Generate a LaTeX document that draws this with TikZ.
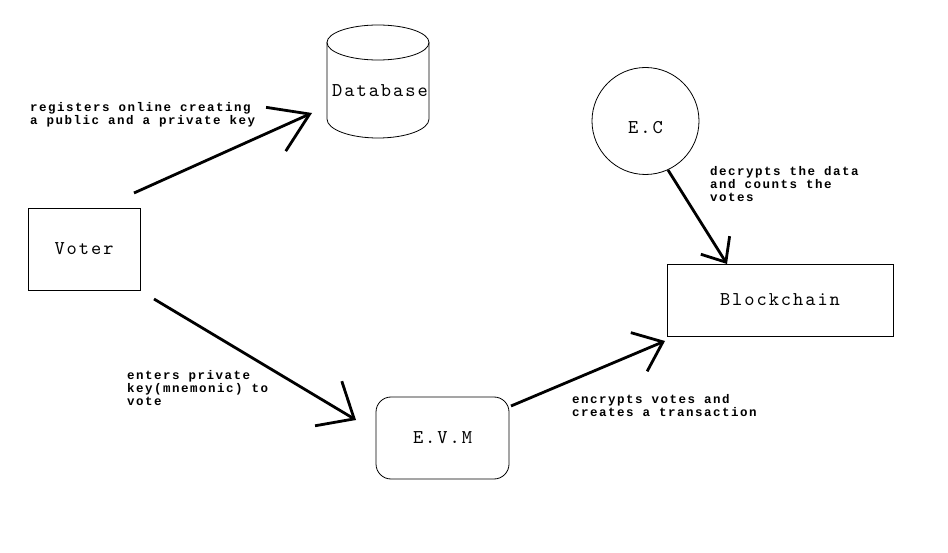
\documentclass[tikz,border=0pt]{standalone}
\usepackage{fontspec}
\newfontfamily\labfont{Liberation Mono}[LetterSpace=12]
\newfontfamily\nodefam{lmmono10-regular}[Extension=.otf, LetterSpace=10]
\usetikzlibrary{arrows.meta}
\newcommand\nodefont{\nodefam\fontsize{19.5}{23}\selectfont}
\newcommand\labsize{\labfont\bfseries\fontsize{12.5}{13}\selectfont}
\tikzset{
  box/.style={draw, line width=0.8pt, inner sep=0pt, font=\nodefont},
  conn/.style={line width=2.8pt},
  barb/.style 2 args={-{Straight Barb[length=#1pt,width=#2pt]}},
  lab/.style={anchor=north west, inner sep=0pt, align=left, font=\labsize}
}
\begin{document}
\begin{tikzpicture}[x=1pt,y=-1pt]
\fill[white] (0,0) rectangle (948,553);
\useasboundingbox (0,0) rectangle (948,553);
% nodes
\node[box, minimum width=112pt, minimum height=82pt] (voter) at (84,249) {Voter};
\node[box, minimum width=226pt, minimum height=72pt] (bc) at (780,300) {Blockchain};
\node[box, rounded corners=15pt, minimum width=133pt, minimum height=82pt] (evm) at (442.5,438) {E.V.M};
\node[box, circle, minimum size=107pt, label={[font=\nodefont, yshift=-7pt]center:E.C}] (ec) at (645.5,121) {};
% database cylinder
\draw[line width=0.8pt] (327,42.5) -- (327,119) arc[start angle=180,end angle=360,x radius=51pt,y radius=19pt] -- (429,42.5);
\draw[line width=0.8pt] (378,42.5) ellipse[x radius=51pt, y radius=17.5pt];
\node[font=\nodefont, inner sep=0pt] (db) at (380,91) {Database};
% connector ends
\coordinate (a1s) at (134,193); \coordinate (a1e) at (312,113);
\coordinate (a2s) at (154,299); \coordinate (a2e) at (356,420);
\coordinate (a3s) at (511,406); \coordinate (a3e) at (665,341);
\coordinate (a4s) at (668,170); \coordinate (a4e) at (727,264);
\draw[conn, barb={37}{48}] (a1s) -- (a1e);
\draw[conn, barb={30}{52}] (a2s) -- (a2e);
\draw[conn, barb={26}{42}] (a3s) -- (a3e);
\draw[conn, barb={20}{34}] (a4s) -- (a4e);
% labels
\node[lab] (l1) at (30,102) {registers online creating\\a public and a private key};
\node[lab] (l2) at (710,166) {decrypts the data\\and counts the\\votes};
\node[lab] (l3) at (127,370) {enters private\\key(mnemonic) to\\vote};
\node[lab] (l4) at (572,394) {encrypts votes and\\creates a transaction};
\end{tikzpicture}
\end{document}
